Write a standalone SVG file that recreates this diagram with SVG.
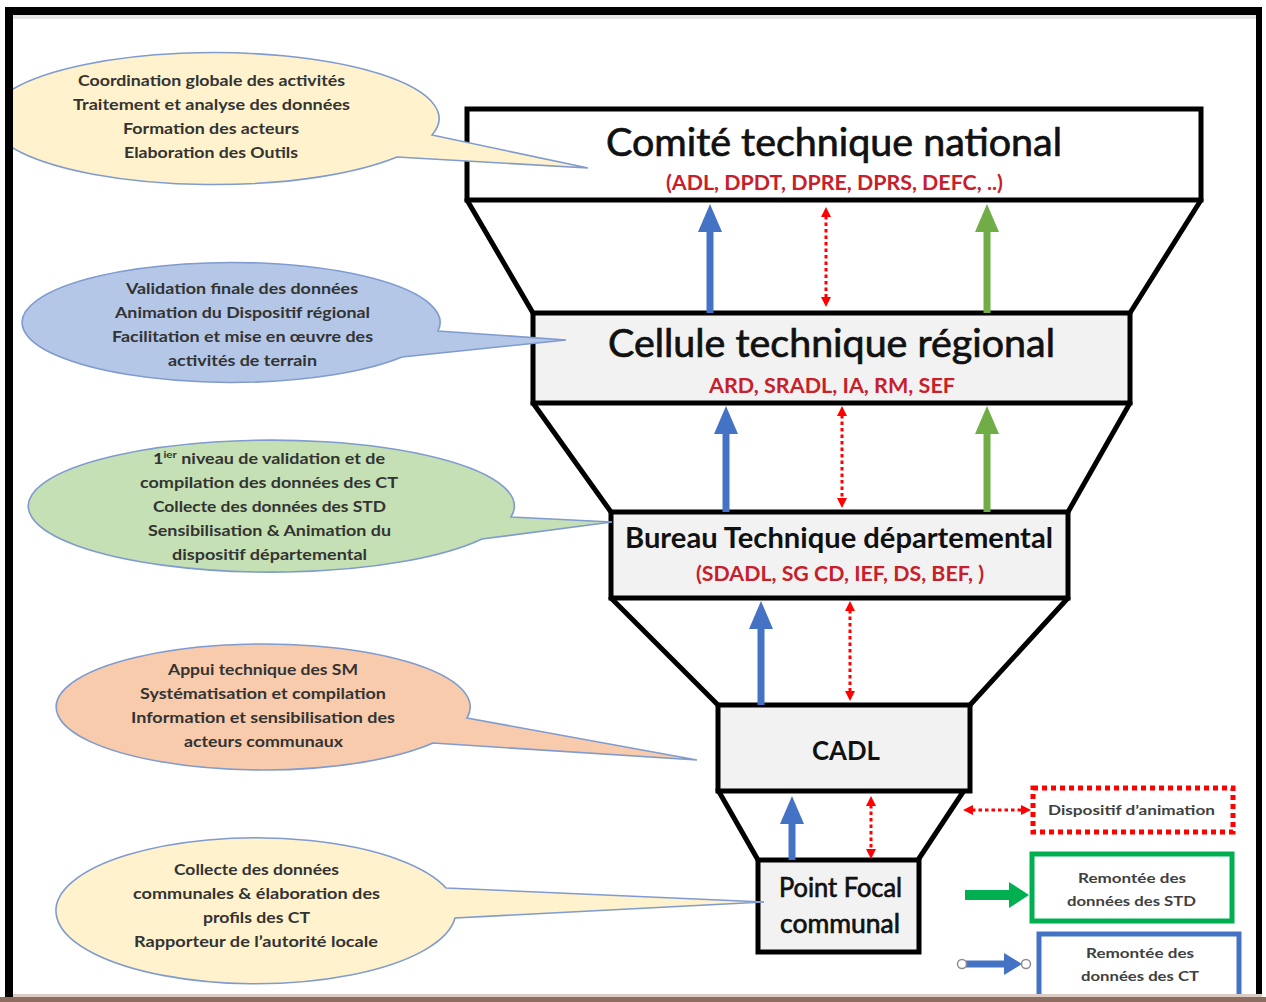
<svg xmlns="http://www.w3.org/2000/svg" width="1266" height="1002" viewBox="0 0 1266 1002">
  <defs>
    <style>
      .bubble { stroke: #7F9BCF; stroke-width: 1.6; }
      .btxt { font-family: Lato, "Open Sans", sans-serif; font-weight: 700; font-size: 15.5px; fill: #333333; text-anchor: middle; }
      .box { stroke: #000; stroke-width: 5; stroke-linejoin: miter; }
      .edge { stroke: #000; stroke-width: 5; fill: none; stroke-linecap: round; }
      .head { font-family: Lato, "Open Sans", sans-serif; font-weight: 400; fill: #111111; stroke: #111111; stroke-width: 0.7; text-anchor: middle; }
      .headb { font-family: Lato, "Open Sans", sans-serif; font-weight: 700; fill: #111111; text-anchor: middle; }
      .sub { font-family: Lato, "Open Sans", sans-serif; font-weight: 700; fill: #C8202B; text-anchor: middle; }
      .ltxt { font-family: Lato, "Open Sans", sans-serif; font-weight: 700; font-size: 14px; fill: #404040; text-anchor: middle; }
      .blue { stroke: #4472C4; stroke-width: 7; fill: none; }
      .green { stroke: #70AD47; stroke-width: 7; fill: none; }
      .red { stroke: #FF0000; stroke-width: 3; stroke-dasharray: 3.5 3; fill: none; }
    </style>
    <marker id="hb" markerUnits="userSpaceOnUse" viewBox="0 0 28 24" markerWidth="28" markerHeight="24" refX="1" refY="12" orient="auto">
      <path d="M0,0 L28,12 L0,24 z" fill="#4472C4"/>
    </marker>
    <marker id="hg" markerUnits="userSpaceOnUse" viewBox="0 0 28 24" markerWidth="28" markerHeight="24" refX="1" refY="12" orient="auto">
      <path d="M0,0 L28,12 L0,24 z" fill="#70AD47"/>
    </marker>
    <marker id="hr" markerUnits="userSpaceOnUse" viewBox="0 0 10 10" markerWidth="10" markerHeight="10" refX="1" refY="5" orient="auto-start-reverse">
      <path d="M0,0 L10,5 L0,10 z" fill="#FF0000"/>
    </marker>
    <marker id="hlg" markerUnits="userSpaceOnUse" viewBox="0 0 20 26" markerWidth="20" markerHeight="26" refX="1" refY="13" orient="auto">
      <path d="M0,0 L20,13 L0,26 z" fill="#00B050"/>
    </marker>
    <marker id="hlb" markerUnits="userSpaceOnUse" viewBox="0 0 18 22" markerWidth="18" markerHeight="22" refX="1" refY="11" orient="auto">
      <path d="M0,0 L18,11 L0,22 z" fill="#4472C4"/>
    </marker>
    <clipPath id="inner"><rect x="13" y="15" width="1243" height="982"/></clipPath>
  </defs>

  <rect x="0" y="0" width="1266" height="1002" fill="#FFFFFF"/>

  <!-- Funnel sides -->
  <g id="funnel">
    <path class="edge" d="M467,200 L533,313 M1201,200 L1130,313"/>
    <path class="edge" d="M533,403 L611,512 M1130,403 L1068,512"/>
    <path class="edge" d="M611,598 L718,705 M1068,598 L970,705"/>
    <path class="edge" d="M718,790 L758,860 M963,792 L918,860"/>
  </g>

  <!-- Nodes -->
  <g id="comite-technique-national">
    <rect class="box" x="467" y="109" width="734" height="91" fill="#FFFFFF"/>
    <text class="head" x="834" y="156" font-size="38" textLength="456" lengthAdjust="spacingAndGlyphs">Comité technique national</text>
    <text class="sub" x="834.5" y="190" font-size="20" textLength="337" lengthAdjust="spacingAndGlyphs">(ADL, DPDT, DPRE, DPRS, DEFC, ..)</text>
  </g>
  <g id="cellule-technique-regional">
    <rect class="box" x="533" y="313" width="597" height="90" fill="#F2F2F2"/>
    <text class="head" x="831.5" y="357" font-size="38" textLength="447" lengthAdjust="spacingAndGlyphs">Cellule technique régional</text>
    <text class="sub" x="832" y="393" font-size="21" textLength="246" lengthAdjust="spacingAndGlyphs">ARD, SRADL, IA, RM, SEF</text>
  </g>
  <g id="bureau-technique-departemental">
    <rect class="box" x="611" y="512" width="457" height="86" fill="#F2F2F2"/>
    <text class="headb" x="839" y="548" font-size="28" textLength="428" lengthAdjust="spacingAndGlyphs">Bureau Technique départemental</text>
    <text class="sub" x="840" y="581" font-size="21" textLength="288" lengthAdjust="spacingAndGlyphs">(SDADL, SG CD, IEF, DS, BEF, )</text>
  </g>
  <g id="cadl">
    <rect class="box" x="718" y="705" width="252" height="86" fill="#F2F2F2"/>
    <text class="headb" x="846" y="760" font-size="27" textLength="68" lengthAdjust="spacingAndGlyphs">CADL</text>
  </g>
  <g id="point-focal-communal">
    <rect class="box" x="758" y="860" width="161" height="92" fill="#F2F2F2"/>
    <text class="head" x="840.5" y="897" font-size="27" textLength="123" lengthAdjust="spacingAndGlyphs">Point Focal</text>
    <text class="head" x="840" y="933" font-size="27" textLength="120" lengthAdjust="spacingAndGlyphs">communal</text>
  </g>

  <!-- Callout bubbles -->
  <g clip-path="url(#inner)">
    <g id="bubble-national">
      <path class="bubble" fill="#FFF2CC" d="M432,135 L588,168 L397,157 A225,66 0 1 1 432,135 Z"/>
      <text class="btxt" x="211.5" y="86" textLength="267" lengthAdjust="spacingAndGlyphs">Coordination globale des activités</text>
      <text class="btxt" x="211.5" y="110" textLength="277" lengthAdjust="spacingAndGlyphs">Traitement et analyse des données</text>
      <text class="btxt" x="211" y="134" textLength="176" lengthAdjust="spacingAndGlyphs">Formation des acteurs</text>
      <text class="btxt" x="211" y="158" textLength="174" lengthAdjust="spacingAndGlyphs">Elaboration des Outils</text>
    </g>
    <g id="bubble-regional">
      <path class="bubble" fill="#B4C7E7" d="M438,331 L566,340 L402,357 A209,60 0 1 1 438,331 Z"/>
      <text class="btxt" x="242" y="294" textLength="232" lengthAdjust="spacingAndGlyphs">Validation finale des données</text>
      <text class="btxt" x="242.5" y="318" textLength="255" lengthAdjust="spacingAndGlyphs">Animation du Dispositif régional</text>
      <text class="btxt" x="242.5" y="342" textLength="261" lengthAdjust="spacingAndGlyphs">Facilitation et mise en œuvre des</text>
      <text class="btxt" x="242.5" y="366" textLength="149" lengthAdjust="spacingAndGlyphs">activités de terrain</text>
    </g>
    <g id="bubble-departemental">
      <path class="bubble" fill="#C5E0B4" d="M511,517 L612,522 L482,539 A243,66 0 1 1 511,517 Z"/>
      <text class="btxt" x="269" y="464" textLength="232" lengthAdjust="spacingAndGlyphs">1<tspan font-size="10" dy="-6">ier</tspan><tspan dy="6"> niveau de validation et de</tspan></text>
      <text class="btxt" x="269" y="488" textLength="258" lengthAdjust="spacingAndGlyphs">compilation  des données des CT</text>
      <text class="btxt" x="269.5" y="512" textLength="233" lengthAdjust="spacingAndGlyphs">Collecte des données des STD</text>
      <text class="btxt" x="269.5" y="536" textLength="243" lengthAdjust="spacingAndGlyphs">Sensibilisation &amp; Animation du</text>
      <text class="btxt" x="269.5" y="560" textLength="195" lengthAdjust="spacingAndGlyphs">dispositif départemental</text>
    </g>
    <g id="bubble-cadl">
      <path class="bubble" fill="#F8CBAD" d="M467,718 L697,760 L433,743 A207,63 0 1 1 467,718 Z"/>
      <text class="btxt" x="263" y="675" textLength="190" lengthAdjust="spacingAndGlyphs">Appui technique des SM</text>
      <text class="btxt" x="263" y="699" textLength="246" lengthAdjust="spacingAndGlyphs">Systématisation et compilation</text>
      <text class="btxt" x="263" y="723" textLength="264" lengthAdjust="spacingAndGlyphs">Information et sensibilisation des</text>
      <text class="btxt" x="263.5" y="747" textLength="159" lengthAdjust="spacingAndGlyphs">acteurs communaux</text>
    </g>
    <g id="bubble-point-focal">
      <path class="bubble" fill="#FFF2CC" d="M446,888 L764,902 L455,918 A200,73 0 1 1 446,888 Z"/>
      <text class="btxt" x="256.5" y="875" textLength="165" lengthAdjust="spacingAndGlyphs">Collecte des données</text>
      <text class="btxt" x="256.5" y="899" textLength="247" lengthAdjust="spacingAndGlyphs">communales &amp; élaboration des</text>
      <text class="btxt" x="256.5" y="923" textLength="107" lengthAdjust="spacingAndGlyphs">profils des CT</text>
      <text class="btxt" x="256" y="947" textLength="244" lengthAdjust="spacingAndGlyphs">Rapporteur de l’autorité locale</text>
    </g>
  </g>

  <!-- Connectors -->
  <g id="connectors">
    <line class="blue" x1="710" y1="313" x2="710" y2="231" marker-end="url(#hb)"/>
    <line class="red" x1="826" y1="216" x2="826" y2="298" marker-start="url(#hr)" marker-end="url(#hr)"/>
    <line class="green" x1="987" y1="313" x2="987" y2="231" marker-end="url(#hg)"/>

    <line class="blue" x1="726" y1="512" x2="726" y2="433" marker-end="url(#hb)"/>
    <line class="red" x1="842" y1="415" x2="842" y2="499" marker-start="url(#hr)" marker-end="url(#hr)"/>
    <line class="green" x1="987" y1="512" x2="987" y2="433" marker-end="url(#hg)"/>

    <line class="blue" x1="761" y1="705" x2="761" y2="628" marker-end="url(#hb)"/>
    <line class="red" x1="850" y1="610" x2="850" y2="692" marker-start="url(#hr)" marker-end="url(#hr)"/>

    <line class="blue" x1="792" y1="860" x2="792" y2="823" marker-end="url(#hb)"/>
    <line class="red" x1="871" y1="805" x2="871" y2="850" marker-start="url(#hr)" marker-end="url(#hr)"/>
  </g>

  <!-- Legend -->
  <g id="legend-dispositif">
    <rect x="1033" y="788" width="200" height="44" fill="none" stroke="#FF0000" stroke-width="5" stroke-dasharray="5 4"/>
    <line class="red" x1="972" y1="810" x2="1022" y2="810" marker-start="url(#hr)" marker-end="url(#hr)"/>
    <text class="ltxt" x="1131.5" y="815" textLength="167" lengthAdjust="spacingAndGlyphs">Dispositif d’animation</text>
  </g>
  <g id="legend-std">
    <rect x="1032" y="854" width="200" height="67" fill="#FFFFFF" stroke="#00B050" stroke-width="5"/>
    <line x1="965" y1="895" x2="1010" y2="895" stroke="#00B050" stroke-width="10" marker-end="url(#hlg)"/>
    <text class="ltxt" x="1132" y="883" textLength="108" lengthAdjust="spacingAndGlyphs">Remontée des</text>
    <text class="ltxt" x="1131.5" y="906" textLength="129" lengthAdjust="spacingAndGlyphs">données des STD</text>
  </g>
  <g id="legend-ct">
    <rect x="1039" y="934" width="200" height="70" fill="#FFFFFF" stroke="#4472C4" stroke-width="5"/>
    <line x1="966" y1="964" x2="1005" y2="964" stroke="#4472C4" stroke-width="7" marker-end="url(#hlb)"/>
    <circle cx="962" cy="964" r="4.5" fill="#FFFFFF" stroke="#8C8C8C" stroke-width="1.5"/>
    <circle cx="1026" cy="964" r="4.5" fill="#FFFFFF" stroke="#8C8C8C" stroke-width="1.5"/>
    <text class="ltxt" x="1140" y="958" textLength="108" lengthAdjust="spacingAndGlyphs">Remontée des</text>
    <text class="ltxt" x="1140" y="981" textLength="118" lengthAdjust="spacingAndGlyphs">données des CT</text>
  </g>

  <!-- Frame -->
  <g id="frame">
    <rect x="13" y="15" width="1243" height="4" fill="#E6E6E6"/>
    <rect x="5" y="7" width="1257" height="8" fill="#000000"/>
    <rect x="5" y="7" width="8" height="990" fill="#000000"/>
    <rect x="1256" y="7" width="6" height="990" fill="#000000"/>
    <rect x="13" y="994" width="1249" height="3" fill="#DCCBC2"/>
    <rect x="0" y="997" width="1266" height="5" fill="#8C6D5F"/>
  </g>
</svg>
